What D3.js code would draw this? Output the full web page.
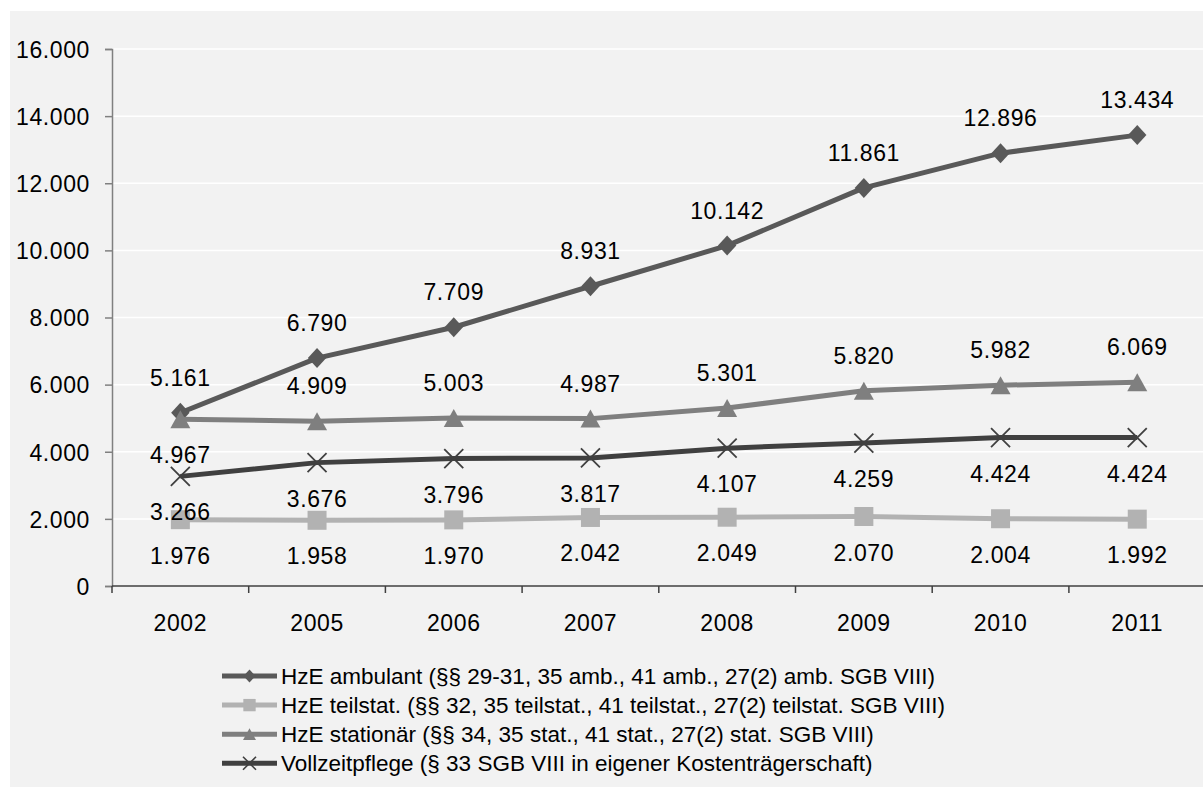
<!DOCTYPE html>
<html><head><meta charset="utf-8">
<script src="https://cdn.jsdelivr.net/npm/d3@7"></script>
<style>html,body{margin:0;padding:0;background:#fff;}svg{display:block;}</style>
</head><body>
<svg id="chart" width="1203" height="787"></svg>
<script>
const categories = ["2002","2005","2006","2007","2008","2009","2010","2011"];
const ambulant = [5161,6790,7709,8931,10142,11861,12896,13434];
const teilstat = [1976,1958,1970,2042,2049,2070,2004,1992];
const stationaer = [4967,4909,5003,4987,5301,5820,5982,6069];
const vollzeit = [3266,3676,3796,3817,4107,4259,4424,4424];
const yTicks = [0,2000,4000,6000,8000,10000,12000,14000,16000];
const seriesNames = [
  "HzE ambulant (§§ 29-31, 35 amb., 41 amb., 27(2) amb. SGB VIII)",
  "HzE teilstat. (§§ 32, 35 teilstat., 41 teilstat., 27(2) teilstat. SGB VIII)",
  "HzE stationär (§§ 34, 35 stat., 41 stat., 27(2) stat. SGB VIII)",
  "Vollzeitpflege (§ 33 SGB VIII in eigener Kostenträgerschaft)"
];
// label position per series: above / below (first point of stationär below)
const labelPos = [
  ["a","a","a","a","a","a","a","a"],
  ["b","b","b","b","b","b","b","b"],
  ["b","a","a","a","a","a","a","a"],
  ["b","b","b","b","b","b","b","b"]
];

const series = [
  {name: seriesNames[0], values: ambulant, color:"#595959", marker:"diamond"},
  {name: seriesNames[1], values: teilstat, color:"#b2b2b2", marker:"square"},
  {name: seriesNames[2], values: stationaer, color:"#7f7f7f", marker:"triangle"},
  {name: seriesNames[3], values: vollzeit, color:"#404040", marker:"x"}
];

const svg = d3.select("#chart");
const FONT = "'Liberation Sans', Arial, sans-serif";
svg.append("rect").attr("x",10).attr("y",11).attr("width",1193).attr("height",776).attr("fill","#f2f2f2");

const x0 = 112, x1 = 112 + 8*136.7;
const x = d3.scaleBand().domain(categories).range([x0, x1]).padding(0);
const y = d3.scaleLinear().domain([0,16000]).range([586, 49]);
const fmt = v => d3.format(",")(v).replace(/,/g,".");

// gridlines
svg.append("g").selectAll("line").data(yTicks.filter(t=>t>0)).join("line")
  .attr("x1",x0).attr("x2",1203).attr("y1",d=>y(d)).attr("y2",d=>y(d))
  .attr("stroke","#ffffff").attr("stroke-width",1.5);

// y axis
const yAxis = svg.append("g").attr("transform",`translate(${x0},0)`)
  .call(d3.axisLeft(y).tickValues(yTicks).tickFormat(fmt).tickSize(7).tickPadding(15));
yAxis.select(".domain").attr("stroke","#808080").attr("stroke-width",1.5);
yAxis.selectAll(".tick line").attr("stroke","#808080").attr("stroke-width",1.5);
yAxis.selectAll(".tick text").attr("font-family",FONT).attr("font-size",23).attr("fill","#000")
  .attr("letter-spacing","0.6px").attr("dy","0.36em");

// x axis
const xAxis = svg.append("g").attr("transform",`translate(0,${y(0)})`)
  .call(d3.axisBottom(x).tickSize(0).tickPadding(29));
xAxis.select(".domain").remove();
xAxis.selectAll(".tick text").attr("font-family",FONT).attr("font-size",23).attr("fill","#000").attr("letter-spacing","0.6px");
svg.append("line").attr("x1",x0).attr("x2",1203).attr("y1",y(0)).attr("y2",y(0)).attr("stroke","#404040").attr("stroke-width",1.5);
svg.append("g").selectAll("line").data(d3.range(categories.length+1)).join("line")
  .attr("x1",i=>x0+i*x.step()).attr("x2",i=>x0+i*x.step())
  .attr("y1",y(0)).attr("y2",y(0)+7).attr("stroke","#404040").attr("stroke-width",1.5);

function markerPath(type, s){
  const p = d3.path();
  if(type==="diamond"){ const w=s*0.92, h=s; p.moveTo(0,-h); p.lineTo(w,0); p.lineTo(0,h); p.lineTo(-w,0); p.closePath(); }
  else if(type==="square"){ p.rect(-s*0.95,-s*0.95,s*1.9,s*1.9); }
  else if(type==="triangle"){ const w=s*1.0, h=s*0.9; p.moveTo(0,-h); p.lineTo(w,h); p.lineTo(-w,h); p.closePath(); }
  else if(type==="x"){ p.moveTo(-s,-s); p.lineTo(s,s); p.moveTo(s,-s); p.lineTo(-s,s); }
  return p.toString();
}

const cx = c => x(c) + x.bandwidth()/2;
const line = d3.line().x((d,i)=>cx(categories[i])).y(d=>y(d));

series.forEach(s=>{
  const g = svg.append("g");
  g.append("path").datum(s.values).attr("d",line).attr("fill","none")
    .attr("stroke",s.color).attr("stroke-width",5).attr("stroke-linejoin","round");
  g.selectAll("path.m").data(s.values).join("path").attr("class","m")
    .attr("transform",(d,i)=>`translate(${cx(categories[i])},${y(d)})`)
    .attr("d",markerPath(s.marker, s.marker==="x"?9.5:10))
    .attr("fill", s.marker==="x"?"none":s.color)
    .attr("stroke", s.color).attr("stroke-width", s.marker==="x"?1.8:0);
});

// data labels
series.forEach((s,si)=>{
  svg.append("g").selectAll("text").data(s.values).join("text")
    .attr("x",(d,i)=>cx(categories[i]))
    .attr("y",(d,i)=> labelPos[si][i]==="a" ? y(d)-27 : y(d)+44)
    .attr("text-anchor","middle").attr("font-family",FONT).attr("font-size",23)
    .attr("letter-spacing","0.6px").attr("fill","#000").text(d=>fmt(d));
});

// legend
const leg = svg.append("g");
series.forEach((s,i)=>{
  const yy = 676 + i*29.1;
  leg.append("line").attr("x1",222).attr("x2",277).attr("y1",yy).attr("y2",yy)
    .attr("stroke",s.color).attr("stroke-width",5);
  leg.append("path").attr("transform",`translate(249.5,${yy})`)
    .attr("d",markerPath(s.marker, s.marker==="x"?6.5:6.5))
    .attr("fill", s.marker==="x"?"none":s.color)
    .attr("stroke", s.color).attr("stroke-width", s.marker==="x"?1.6:0);
  leg.append("text").attr("x",281).attr("y",yy+7.5).attr("font-family",FONT).attr("font-size",22.5)
    .attr("fill","#000").text(s.name);
});
</script>
</body></html>
